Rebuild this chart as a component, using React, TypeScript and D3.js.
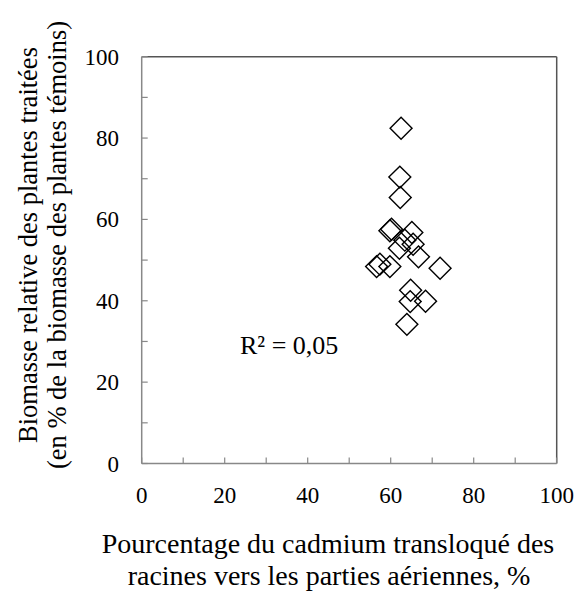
import React from "react";
import * as d3 from "d3";

// points: % Cd translocated vs relative biomass
const translocation = [62.5, 62.2, 62.3, 60.2, 59.8, 65.1, 65.4, 62.1, 66.7, 57.4, 56.6, 59.8, 71.9, 64.8, 64.7, 68.4, 63.9, 63.4];
const biomass = [82.4, 70.4, 65.4, 57.6, 57.2, 56.8, 53.9, 52.9, 50.8, 49.0, 48.4, 48.4, 48.0, 42.6, 39.8, 39.9, 34.2, 54.9];

const xTicks = [0, 20, 40, 60, 80, 100];
const yTicks = [0, 20, 40, 60, 80, 100];

const yTitle = ["Biomasse relative des plantes traitées", "(en % de la biomasse des plantes témoins)"];
const xTitle = ["Pourcentage du cadmium transloqué des", "racines vers les parties aériennes, %"];
const r2Label = "R² = 0,05";

const W = 580;
const H = 595;
const left = 141.7;
const right = 556.7;
const top = 56.7;
const bottom = 463.5;
const font = "Liberation Serif, Times New Roman, serif";

export default function App() {
  const x = d3.scaleLinear().domain([0, 100]).range([left, right]);
  const y = d3.scaleLinear().domain([0, 100]).range([bottom, top]);
  const diamond = d3.symbol(d3.symbolSquare, 240)() as string;
  const pts = translocation.map((t, i) => ({ t, b: biomass[i] }));
  const allTicks = d3.range(0, 101, 10);

  return (
    <div style={{ position: "absolute", left: 0, top: 0 }}>
      <svg width={W} height={H} style={{ display: "block", background: "#fff", fontFamily: font }}>
        {/* frame */}
        <line x1={left} x2={right} y1={top} y2={top} stroke="#555" strokeWidth={1.5} />
        <line x1={right} x2={right} y1={top} y2={bottom} stroke="#555" strokeWidth={1.5} />
        <line x1={left} x2={left} y1={top} y2={bottom} stroke="#888" strokeWidth={1.5} />
        <line x1={left} x2={right} y1={bottom} y2={bottom} stroke="#888" strokeWidth={1.5} />

        {/* inside ticks */}
        {allTicks.map((v) => (
          <line key={"xt" + v} x1={x(v)} x2={x(v)} y1={bottom} y2={bottom - 6} stroke="#888" strokeWidth={1.2} />
        ))}
        {allTicks.map((v) => (
          <line key={"yt" + v} x1={left} x2={left + 6} y1={y(v)} y2={y(v)} stroke="#888" strokeWidth={1.2} />
        ))}

        {xTicks.map((v) => (
          <text key={"xl" + v} x={x(v)} y={503} textAnchor="middle" fontSize={23} fill="#000">
            {v}
          </text>
        ))}
        {yTicks.map((v) => (
          <text key={"yl" + v} x={119} y={y(v)} dy="0.35em" textAnchor="end" fontSize={23} fill="#000">
            {v}
          </text>
        ))}

        {pts.map((p, i) => (
          <path
            key={i}
            d={diamond}
            transform={`translate(${x(p.t)},${y(p.b)}) rotate(45)`}
            fill="none"
            stroke="#000"
            strokeWidth={1.4}
          />
        ))}

        <text x={240} y={354} fontSize={26} fill="#000">
          {r2Label}
        </text>

        <g transform="translate(37,245) rotate(-90)">
          <text x={0} y={0} textAnchor="middle" fontSize={26.5} fill="#000">
            {yTitle[0]}
          </text>
          <text x={0} y={29} textAnchor="middle" fontSize={26.5} fill="#000">
            {yTitle[1]}
          </text>
        </g>

        <text x={328} y={553} textAnchor="middle" fontSize={28} fill="#000">
          {xTitle[0]}
        </text>
        <text x={329} y={585} textAnchor="middle" fontSize={28} fill="#000">
          {xTitle[1]}
        </text>
      </svg>
    </div>
  );
}
